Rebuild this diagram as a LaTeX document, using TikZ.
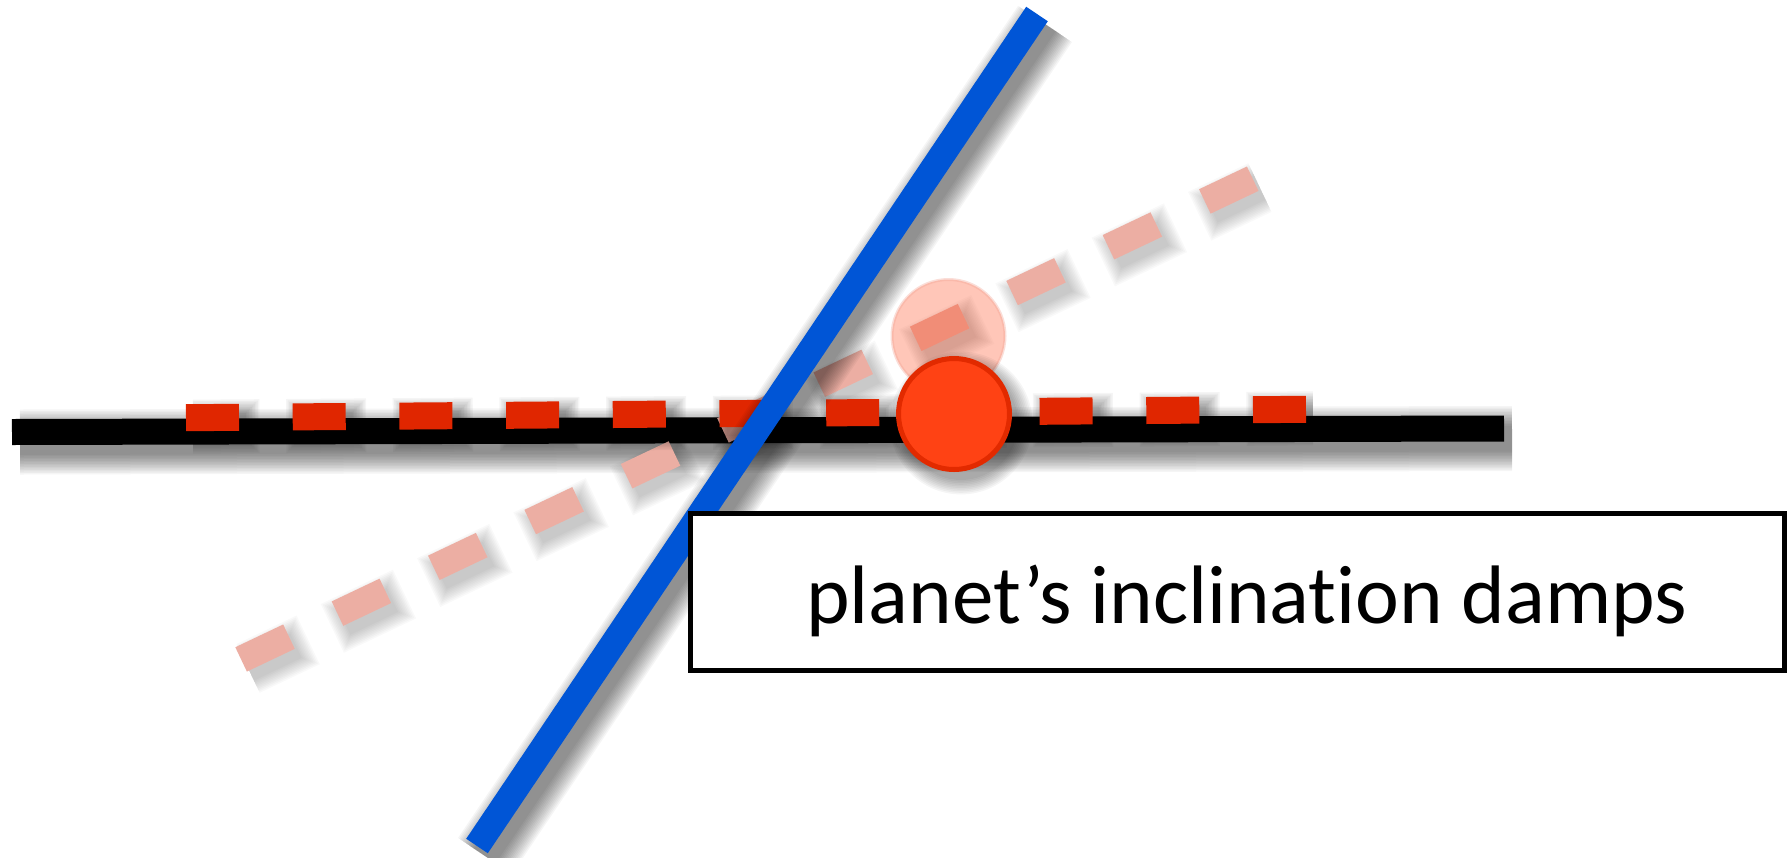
\documentclass[tikz,border=0pt]{standalone}
\usepackage{fontspec}
\setmainfont{Carlito}[Ligatures={NoCommon}]
\usetikzlibrary{calc}
\definecolor{lineblue}{HTML}{0055D6}
\definecolor{dashred}{HTML}{E02600}
\definecolor{ballred}{HTML}{FF4214}
\definecolor{ballrim}{HTML}{E22A00}
\definecolor{palered}{HTML}{ECAEA3}
\definecolor{palerim}{HTML}{F2A090}

\tikzset{
  bar/.style={line width=26pt, line cap=butt},
  dashbar/.style={line width=27pt, line cap=butt, dash pattern=on 53pt off 53.7pt},
  framebox/.style={draw=black, fill=white, line width=5pt, inner sep=0pt},
  caption/.style={font=\fontsize{83}{100}\selectfont, inner sep=0pt, anchor=base west},
}

% soft shadow of a straight bar
\newcommand\barshadow[4]{%
  \foreach \e in {0,...,13}{%
    \pgfmathsetmacro\ww{#3+3*\e}%
    \draw[black, opacity=#4, line width=\ww pt, line cap=butt]
      ([shift={(8,10)}]#1) -- ([shift={(8,10)}]#2);
  }}
% soft shadow of a dashed bar
\newcommand\dashshadow[3]{%
  \foreach \e in {0,...,9}{%
    \pgfmathsetmacro\ww{27+3*\e}%
    \pgfmathsetmacro\dl{53+3*\e}%
    \pgfmathsetmacro\dg{53.7-3*\e}%
    \pgfmathsetmacro\dp{1.5*\e}%
    \draw[black, opacity=#3, line width=\ww pt, line cap=butt,
          dash pattern=on \dl pt off \dg pt, dash phase=\dp pt]
      ([shift={(7,9)}]#1) -- ([shift={(7,9)}]#2);
  }}

\begin{document}
\begin{tikzpicture}[x=1pt, y=-1pt]
\useasboundingbox (0,0) rectangle (1787,857);

% key points (pixel coordinates of the reference)
\coordinate (blackS) at (12,432);
\coordinate (blackE) at (1504,428.5);
\coordinate (redS)   at (186,417.7);
\coordinate (redE)   at (1306,409.3);
\coordinate (paleS)  at (241.1,659.4);
\coordinate (paleE)  at (1252.9,178.6);
\coordinate (blueS)  at (477,846);
\coordinate (blueE)  at (1037,14);
\coordinate (ball)   at (954,414);
\coordinate (ghost)  at (948.5,336);

% black line
\barshadow{blackS}{blackE}{26}{0.038}
\draw[bar, black] (blackS) -- (blackE);

% pale (tilted) dashed line
\dashshadow{paleS}{paleE}{0.022}
\draw[dashbar, palered] (paleS) -- (paleE);

% red dashed line
\dashshadow{redS}{redE}{0.04}
\draw[dashbar, dashred] (redS) -- (redE);

% ghost ball
\draw[fill=ballred, fill opacity=0.3, draw=palerim, draw opacity=0.35, line width=3pt]
  (ghost) circle (56.5);

% red ball
\foreach \e in {0,...,9}{
  \fill[black, opacity=0.04] ([shift={(7,9)}]ball) circle ({57+1.6*\e});
}
\draw[fill=ballred, draw=ballrim, line width=5pt] (ball) circle (55.5);

% blue line
\barshadow{blueS}{blueE}{26}{0.038}
\draw[bar, lineblue] (blueS) -- (blueE);

% caption box
\node[framebox, minimum width=1094.5pt, minimum height=156.5pt] (box) at (1237.25,591.75) {};
\node[caption] (label) at (806,623) {planet’s inclination damps};
\end{tikzpicture}
\end{document}
